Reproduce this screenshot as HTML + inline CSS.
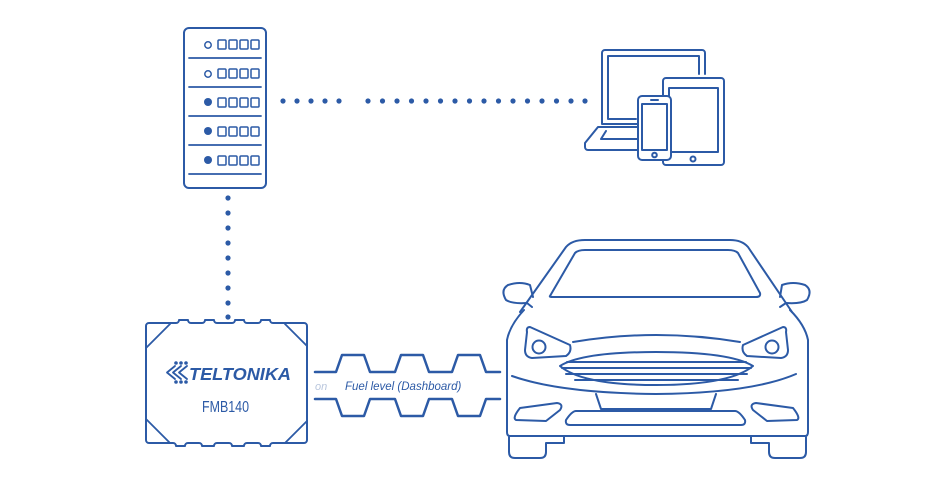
<!DOCTYPE html>
<html><head><style>
html,body{margin:0;padding:0;background:#fff;width:948px;height:489px;overflow:hidden}
svg{display:block}
</style></head><body>
<svg width="948" height="489" viewBox="0 0 948 489" xmlns="http://www.w3.org/2000/svg" fill="none" stroke="#2c5aa6" stroke-width="2" stroke-linecap="round" stroke-linejoin="round">
<!-- server -->
<rect x="184" y="28" width="82" height="160" rx="5"/>
<g stroke-width="1.8">
<line x1="189" y1="58" x2="261" y2="58"/><line x1="189" y1="87" x2="261" y2="87"/>
<line x1="189" y1="116" x2="261" y2="116"/><line x1="189" y1="145" x2="261" y2="145"/>
<line x1="189" y1="174" x2="261" y2="174"/>
</g>
<g stroke-width="1.5">
<circle cx="208" cy="45" r="3.2"/><circle cx="208" cy="74" r="3.2"/>
</g>
<g fill="#2c5aa6" stroke="none">
<circle cx="208" cy="102" r="4"/><circle cx="208" cy="131" r="4"/><circle cx="208" cy="160" r="4"/>
</g>
<g stroke-width="1.5">
<rect x="218" y="40" width="8" height="9" rx="1"/><rect x="229" y="40" width="8" height="9" rx="1"/><rect x="240" y="40" width="8" height="9" rx="1"/><rect x="251" y="40" width="8" height="9" rx="1"/>
<rect x="218" y="69" width="8" height="9" rx="1"/><rect x="229" y="69" width="8" height="9" rx="1"/><rect x="240" y="69" width="8" height="9" rx="1"/><rect x="251" y="69" width="8" height="9" rx="1"/>
<rect x="218" y="98" width="8" height="9" rx="1"/><rect x="229" y="98" width="8" height="9" rx="1"/><rect x="240" y="98" width="8" height="9" rx="1"/><rect x="251" y="98" width="8" height="9" rx="1"/>
<rect x="218" y="127" width="8" height="9" rx="1"/><rect x="229" y="127" width="8" height="9" rx="1"/><rect x="240" y="127" width="8" height="9" rx="1"/><rect x="251" y="127" width="8" height="9" rx="1"/>
<rect x="218" y="156" width="8" height="9" rx="1"/><rect x="229" y="156" width="8" height="9" rx="1"/><rect x="240" y="156" width="8" height="9" rx="1"/><rect x="251" y="156" width="8" height="9" rx="1"/>
</g>
<!-- dotted lines -->
<g fill="#2c5aa6" stroke="none">
<circle cx="283" cy="101" r="2.6"/><circle cx="297" cy="101" r="2.6"/><circle cx="311" cy="101" r="2.6"/><circle cx="325" cy="101" r="2.6"/><circle cx="339" cy="101" r="2.6"/>
<circle cx="368" cy="101" r="2.6"/><circle cx="382.5" cy="101" r="2.6"/><circle cx="397" cy="101" r="2.6"/><circle cx="411.5" cy="101" r="2.6"/><circle cx="426" cy="101" r="2.6"/><circle cx="440.5" cy="101" r="2.6"/><circle cx="455" cy="101" r="2.6"/><circle cx="469.5" cy="101" r="2.6"/><circle cx="484" cy="101" r="2.6"/><circle cx="498.5" cy="101" r="2.6"/><circle cx="513" cy="101" r="2.6"/><circle cx="527.5" cy="101" r="2.6"/><circle cx="542" cy="101" r="2.6"/><circle cx="556.5" cy="101" r="2.6"/><circle cx="571" cy="101" r="2.6"/><circle cx="585" cy="101" r="2.6"/>
<circle cx="228" cy="198" r="2.6"/><circle cx="228" cy="213" r="2.6"/><circle cx="228" cy="228" r="2.6"/><circle cx="228" cy="243" r="2.6"/><circle cx="228" cy="258" r="2.6"/><circle cx="228" cy="273" r="2.6"/><circle cx="228" cy="288" r="2.6"/><circle cx="228" cy="303" r="2.6"/><circle cx="228" cy="317" r="2.6"/>
</g>
<!-- laptop -->
<path d="M638 124 H602 V53 a3 3 0 0 1 3-3 H702 a3 3 0 0 1 3 3 V74"/>
<path d="M636 119 H608 V56 H699 V74"/>
<path d="M638 127 H598 L585 143 V147 a3 3 0 0 0 3 3 H638"/>
<path d="M606 131 L601 139 H638"/>
<!-- tablet -->
<rect x="663" y="78" width="61" height="87" rx="3"/>
<rect x="669" y="88" width="49" height="64"/>
<circle cx="693" cy="159" r="2.5"/>
<!-- phone -->
<rect x="638" y="96" width="33" height="64" rx="4" fill="#fff"/>
<rect x="642" y="104" width="25" height="46"/>
<line x1="651" y1="100" x2="658" y2="100"/>
<circle cx="654.5" cy="155" r="2.3"/>
<!-- FMB140 -->
<path d="M149 323 H176 a3 3 0 0 0 3-3 H188 a3 3 0 0 0 3 3 H202 a3 3 0 0 0 3-3 H214 a3 3 0 0 0 3 3 H232 a3 3 0 0 0 3-3 H244 a3 3 0 0 0 3 3 H258 a3 3 0 0 0 3-3 H270 a3 3 0 0 0 3 3 H304 a3 3 0 0 1 3 3 V440 a3 3 0 0 1-3 3 H273 a3 3 0 0 0-3 3 H261 a3 3 0 0 0-3-3 H247 a3 3 0 0 0-3 3 H232 a3 3 0 0 0-3-3 H217 a3 3 0 0 0-3 3 H202 a3 3 0 0 0-3-3 H188 a3 3 0 0 0-3 3 H176 a3 3 0 0 0-3-3 H149 a3 3 0 0 1-3-3 V326 a3 3 0 0 1 3-3 Z"/>
<path d="M146 348 L170 324 M285 324 L307 346 M146 419 L170 443 M285 443 L307 421" stroke-width="1.8"/>
<g fill="#2c5aa6" stroke="none">
<circle cx="176" cy="363" r="1.8"/><circle cx="181" cy="363" r="1.8"/><circle cx="186" cy="363" r="1.8"/><circle cx="176" cy="382" r="1.8"/><circle cx="181" cy="382" r="1.8"/><circle cx="186" cy="382" r="1.8"/>
</g>
<path d="M175 366 L167 372.5 L175 379 M181 366 L173 372.5 L181 379 M187 366 L179 372.5 L187 379" stroke-width="1.8"/>
<text x="189" y="380" fill="#2c5aa6" stroke="none" font-family="Liberation Sans, sans-serif" font-weight="bold" font-style="italic" font-size="17.5" textLength="102" lengthAdjust="spacingAndGlyphs">TELTONIKA</text>
<text x="202" y="412" fill="#2c5aa6" stroke="none" font-family="Liberation Sans, sans-serif" font-size="16" textLength="47" lengthAdjust="spacingAndGlyphs">FMB140</text>
<!-- waveform -->
<path d="M315 372 H336 L342 355 H364 L370 372 H395 L401 355 H423 L429 372 H452 L458 355 H480 L486 372 H500" stroke-width="2.5"/>
<path d="M315 399 H336 L342 416 H364 L370 399 H395 L401 416 H423 L429 399 H452 L458 416 H480 L486 399 H500" stroke-width="2.5"/>
<text x="315" y="390" fill="#b9c6dd" stroke="none" font-family="Liberation Sans, sans-serif" font-style="italic" font-size="11">on</text>
<text x="345" y="390" fill="#2c5aa6" stroke="none" font-family="Liberation Sans, sans-serif" font-style="italic" font-size="11.5">Fuel level (Dashboard)</text>
<!-- car -->
<g stroke-width="2">
<path d="M520 312 L566 247 Q572 240 585 240 H730 Q742 240 748 247 L792 312"/>
<path d="M550 296 L575 253 Q578 250 585 250 H728 Q735 250 738 253 L760 293 Q761 297 756 297 H553 Q549 297 550 296 Z"/>
<path d="M532 307 L527 303 Q512 304 506 300 Q500 290 508 285 Q520 281 530 285 L533 297"/>
<path d="M780 307 L786 303 Q801 304 807 300 Q813 290 805 285 Q793 281 782 285 L780 297"/>
<path d="M524 310 Q510 325 507 340 V432 Q507 436 510 436 H805 Q808 436 808 432 V340 Q805 325 790 310"/>
<path d="M527 332 Q526 327 530 327 L570 345 Q572 352 566 356 L532 358 Q525 357 525 350 Z"/>
<path d="M786 332 Q787 327 783 327 L743 345 Q741 352 747 356 L781 358 Q788 357 788 350 Z"/>
<circle cx="539" cy="347" r="6.5"/><circle cx="772" cy="347" r="6.5"/>
<path d="M573 342 Q656 328 740 342"/>
<path d="M560 366 Q582 352 656 352 Q730 352 753 366 Q730 385 656 385 Q582 385 560 366 Z"/>
<path d="M567 362 H746 M562 368 H751 M566 374 H747 M575 380 H738"/>
<path d="M512 376 Q560 393 656 394 Q752 393 796 374"/>
<path d="M596 394 L601 409 H711 L716 394"/>
<path d="M520 408 L557 403 Q564 404 560 410 L546 421 L516 420 Q512 418 520 408 Z"/>
<path d="M793 408 L756 403 Q749 404 753 410 L767 421 L797 420 Q801 418 793 408 Z"/>
<path d="M576 411 Q572 411 566 420 Q565 425 570 425 H741 Q746 425 745 420 Q739 411 735 411 Z"/>
<path d="M509 437 V452 Q509 458 515 458 H540 Q546 458 546 452 V443 H564 V437"/>
<path d="M806 437 V452 Q806 458 800 458 H775 Q769 458 769 452 V443 H751 V437"/>
</g>
</svg>
</body></html>
